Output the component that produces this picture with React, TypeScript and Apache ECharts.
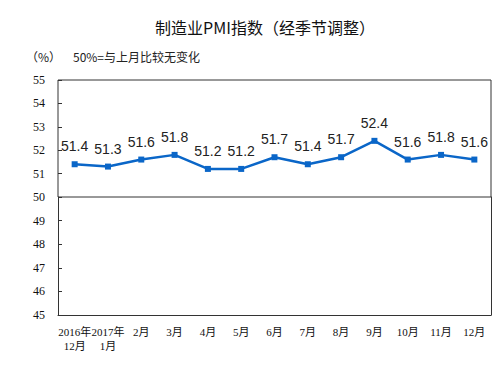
import React, { useEffect, useRef } from "react";
import * as echarts from "echarts";

const categories = ["2016年\n12月", "2017年\n1月", "2月", "3月", "4月", "5月", "6月", "7月", "8月", "9月", "10月", "11月", "12月"];
const pmiValues = [51.4, 51.3, 51.6, 51.8, 51.2, 51.2, 51.7, 51.4, 51.7, 52.4, 51.6, 51.8, 51.6];
const upperTicks = [50, 51, 52, 53, 54, 55];
const lowerTicks = [45, 46, 47, 48, 49, 50];

const serif = "'Liberation Serif', 'DejaVu Serif', 'Noto Sans CJK SC', serif";

export default function App() {
  const ref = useRef<HTMLDivElement>(null);
  useEffect(() => {
    if (!ref.current) return;
    const chart = echarts.init(ref.current, null, { renderer: "svg" });
    chart.setOption({
      animation: false,
      backgroundColor: "#ffffff",
      title: {
        text: "制造业PMI指数（经季节调整）",
        left: 260,
        textAlign: "center",
        top: 14,
        textStyle: { fontFamily: "'Noto Sans CJK SC', sans-serif", fontSize: 16, fontWeight: "normal", color: "#111" },
      },
      graphic: [
        { type: "text", left: 26, top: 50, style: { text: "（%）", fontSize: 12, fontFamily: "'Noto Sans CJK SC', sans-serif", fill: "#222" } },
        { type: "text", left: 73, top: 50, style: { text: "50%=与上月比较无变化", fontSize: 12, fontFamily: "'Noto Sans CJK SC', sans-serif", fill: "#222" } },
      ],
      grid: [
        { left: 58, right: 7, top: 80, height: 117, show: true, borderColor: "#333", borderWidth: 1, containLabel: false },
        { left: 58, right: 7, top: 197, height: 118, show: false, containLabel: false },
      ],
      xAxis: [
        {
          type: "category", gridIndex: 0, data: categories, boundaryGap: true,
          axisLine: { show: false },
          axisTick: { inside: true, length: 4, lineStyle: { color: "#333" } },
          axisLabel: { show: false },
        },
        {
          type: "category", gridIndex: 1, data: categories, boundaryGap: true,
          axisLine: { lineStyle: { color: "#333", width: 1 } },
          axisTick: { show: false },
          axisLabel: { interval: 0, fontFamily: serif, fontSize: 11, color: "#111", lineHeight: 14, margin: 10 },
        },
      ],
      yAxis: [
        {
          type: "value", gridIndex: 0, min: upperTicks[0], max: upperTicks[upperTicks.length - 1], interval: 1,
          axisLine: { show: false },
          axisTick: { show: true, inside: true, length: 4, lineStyle: { color: "#333" } },
          splitLine: { show: false },
          axisLabel: { fontFamily: serif, fontSize: 12, color: "#111", margin: 13, showMinLabel: false },
        },
        {
          type: "value", gridIndex: 1, min: lowerTicks[0], max: lowerTicks[lowerTicks.length - 1], interval: 1,
          axisLine: { show: true, lineStyle: { color: "#333" } },
          axisTick: { show: true, inside: true, length: 4, lineStyle: { color: "#333" } },
          splitLine: { show: false },
          axisLabel: { fontFamily: serif, fontSize: 12, color: "#111", margin: 13 },
        },
        {
          type: "value", gridIndex: 1, position: "right", min: lowerTicks[0], max: lowerTicks[lowerTicks.length - 1], interval: 1,
          axisLine: { show: true, lineStyle: { color: "#333" } },
          axisTick: { show: false },
          splitLine: { show: false },
          axisLabel: { show: false },
        },
      ],
      series: [
        {
          type: "line", xAxisIndex: 0, yAxisIndex: 0, data: pmiValues,
          symbol: "rect", symbolSize: 6,
          lineStyle: { color: "#0a66c8", width: 2.5 },
          itemStyle: { color: "#0a66c8" },
          label: {
            show: true, position: "top", distance: 8,
            fontFamily: "'Liberation Sans', Arial, sans-serif", fontSize: 14, color: "#222",
            formatter: (p: any) => p.value.toFixed(1),
          },
        },
      ],
    });
    return () => chart.dispose();
  }, []);
  return <div ref={ref} style={{ width: 498, height: 367, position: "absolute", left: 0, top: 0 }} />;
}
